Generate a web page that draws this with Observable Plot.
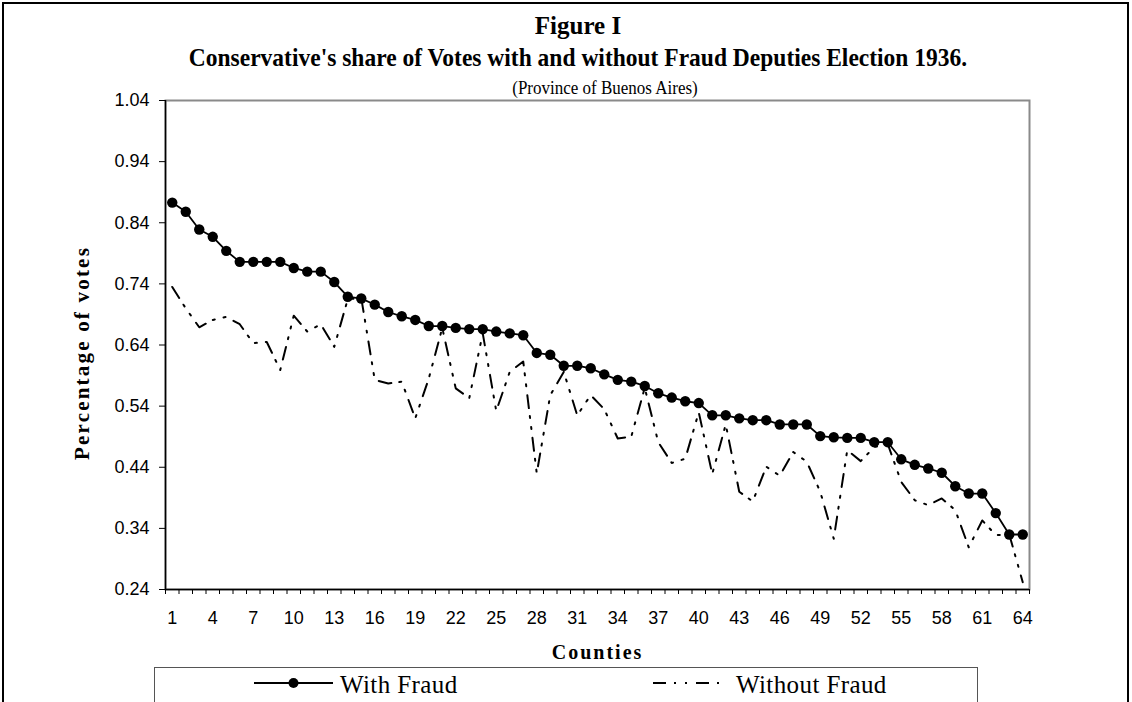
<!DOCTYPE html>
<html><head><meta charset="utf-8">
<script src="https://cdn.jsdelivr.net/npm/d3@7"></script>
<script src="https://cdn.jsdelivr.net/npm/@observablehq/plot@0.6"></script>
<style>
body{margin:0;background:#fff;}
#page{position:relative;width:1132px;height:702px;overflow:hidden;background:#fff;}
#outer{position:absolute;left:2px;top:2px;width:1127px;height:760px;border:2px solid #000;box-sizing:border-box;pointer-events:none;z-index:5;}
#titles{position:relative;height:92px;font-family:"Liberation Serif","Times New Roman",serif;color:#000;}
.t{position:absolute;white-space:nowrap;transform:translate(-50%,-50%);line-height:1;}
#legend{position:absolute;left:154px;top:667px;width:824px;height:60px;border:1.5px solid #555;box-sizing:border-box;font-family:"Liberation Serif","Times New Roman",serif;font-size:25px;background:#fff;}
.li{position:absolute;white-space:nowrap;line-height:1;transform:translateY(-50%);letter-spacing:0.4px;}
.ls{position:absolute;}
</style></head>
<body>
<div id="page">
  <div id="outer"></div>
  <div id="titles">
    <div class="t" style="left:578px;top:25px;font-weight:bold;font-size:25px;">Figure I</div>
    <div class="t" style="left:578px;top:58px;font-weight:bold;font-size:23.5px;transform:translate(-50%,-50%) scale(1,1.06);">Conservative's share of Votes with and without Fraud Deputies Election 1936.</div>
    <div class="t" style="left:605px;top:88px;font-size:17px;transform:translate(-50%,-50%) scale(1,1.08);">(Province of Buenos Aires)</div>
  </div>
  <div id="chart"></div>
  <div id="legend"></div>
</div>
<script>
const counties = [1,2,3,4,5,6,7,8,9,10,11,12,13,14,15,16,17,18,19,20,21,22,23,24,25,26,27,28,29,30,31,32,
  33,34,35,36,37,38,39,40,41,42,43,44,45,46,47,48,49,50,51,52,53,54,55,56,57,58,59,60,61,62,63,64];

const withFraud = [0.873,0.858,0.829,0.817,0.794,0.776,0.776,0.776,0.776,0.766,0.760,0.760,0.743,0.719,0.716,0.706,
  0.694,0.687,0.681,0.671,0.671,0.668,0.666,0.666,0.662,0.659,0.656,0.627,0.624,0.606,0.606,0.602,
  0.592,0.583,0.580,0.573,0.561,0.554,0.548,0.545,0.525,0.525,0.520,0.517,0.517,0.510,0.510,0.510,
  0.491,0.489,0.488,0.488,0.481,0.481,0.453,0.444,0.438,0.431,0.409,0.397,0.397,0.365,0.330,0.330];

const withoutFraud = [0.735,0.700,0.669,0.681,0.686,0.674,0.643,0.645,0.599,0.688,0.662,0.674,0.637,0.715,0.717,0.583,
  0.577,0.580,0.520,0.585,0.668,0.569,0.553,0.659,0.532,0.596,0.613,0.430,0.558,0.596,0.525,0.558,
  0.535,0.487,0.490,0.570,0.481,0.447,0.454,0.530,0.429,0.510,0.400,0.384,0.441,0.426,0.465,0.449,
  0.400,0.323,0.468,0.450,0.473,0.478,0.416,0.386,0.378,0.389,0.370,0.309,0.353,0.329,0.330,0.252];

const xTickLabels = [1,4,7,10,13,16,19,22,25,28,31,34,37,40,43,46,49,52,55,58,61,64];
const yTicks = [0.24,0.34,0.44,0.54,0.64,0.74,0.84,0.94,1.04];
const seriesNames = ["With Fraud","Without Fraud"];
const titleX = "Counties";
const titleY = "Percentage of votes";

const rowsWith = counties.map((c,i)=>({county:c, value:withFraud[i]}));
const rowsWithout = counties.map((c,i)=>({county:c, value:withoutFraud[i]}));
const xDomain = [counties[0]-0.5, counties[counties.length-1]+0.5];
const boundaries = counties.map(c=>c-0.5).concat([xDomain[1]]);
const dash = "13,8,2,9,2,9";
const serif = "Liberation Serif, Times New Roman, serif";

const plot = Plot.plot({
  width: 1132,
  height: 570,
  marginTop: 8,
  marginBottom: 73,
  marginLeft: 165,
  marginRight: 103,
  style: {fontFamily: "Liberation Sans, Arial, sans-serif", fontSize: "18px", background: "transparent", overflow: "visible", color: "#000"},
  x: {type: "linear", domain: xDomain},
  y: {domain: [yTicks[0], yTicks[yTicks.length-1]]},
  marks: [
    Plot.frame({stroke: "#8a8a8a", strokeWidth: 2}),
    Plot.axisY({ticks: yTicks, tickFormat: d3.format(".2f"), tickSize: 6, tickPadding: 10, label: null, stroke: "#000"}),
    Plot.axisX({ticks: boundaries, tickFormat: () => "", tickSize: 5, label: null, stroke: "#000"}),
    Plot.axisX({ticks: xTickLabels, tickSize: 0, tickPadding: 22, label: null}),
    Plot.ruleY([yTicks[0]], {stroke: "#000", strokeWidth: 1.5}),
    Plot.ruleX([xDomain[0]], {stroke: "#000", strokeWidth: 1.5}),
    Plot.line(rowsWithout, {x: "county", y: "value", stroke: "#000", strokeWidth: 2, strokeDasharray: dash}),
    Plot.line(rowsWith, {x: "county", y: "value", stroke: "#000", strokeWidth: 1.8}),
    Plot.dot(rowsWith, {x: "county", y: "value", r: 5.2, fill: "#000", stroke: "none"}),
    Plot.text([titleX], {text: d => d, frameAnchor: "bottom", dy: 63, fontSize: 20, fontWeight: "bold", fontFamily: serif, textAnchor: "middle", lineAnchor: "middle", fill: "#000"}),
    Plot.text([titleY], {text: d => d, frameAnchor: "left", rotate: -90, dx: -83, dy: 8, fontSize: 21, fontWeight: "bold", fontFamily: serif, textAnchor: "middle", lineAnchor: "middle", fill: "#000"})
  ]
});
plot.style.display = "block";
plot.querySelectorAll("text").forEach(t => {
  if (t.textContent === titleX) t.setAttribute("letter-spacing", "2px");
  if (t.textContent === titleY) t.setAttribute("letter-spacing", "2.2px");
});
document.getElementById("chart").appendChild(plot);

// legend
const legend = document.getElementById("legend");
const ns = "http://www.w3.org/2000/svg";
function sample(left, width, withDot, dasharray) {
  const s = document.createElementNS(ns, "svg");
  s.setAttribute("width", width); s.setAttribute("height", 14);
  s.setAttribute("class", "ls");
  s.style.left = left + "px"; s.style.top = (16 - 7 - 1.5) + "px";
  const l = document.createElementNS(ns, "line");
  l.setAttribute("x1", 0); l.setAttribute("x2", width); l.setAttribute("y1", 7); l.setAttribute("y2", 7);
  l.setAttribute("stroke", "#000"); l.setAttribute("stroke-width", withDot ? 1.8 : 2);
  if (dasharray) l.setAttribute("stroke-dasharray", dasharray);
  s.appendChild(l);
  if (withDot) {
    const c = document.createElementNS(ns, "circle");
    c.setAttribute("cx", width/2); c.setAttribute("cy", 7); c.setAttribute("r", 5); c.setAttribute("fill", "#000");
    s.appendChild(c);
  }
  legend.appendChild(s);
}
function label(left, text) {
  const d = document.createElement("div");
  d.className = "li"; d.textContent = text;
  d.style.left = left + "px"; d.style.top = "16px";
  legend.appendChild(d);
}
sample(253-154, 79, true, null);
label(339-154, seriesNames[0]);
sample(652-154, 68, false, dash);
label(735-154, seriesNames[1]);
</script>
</body></html>
